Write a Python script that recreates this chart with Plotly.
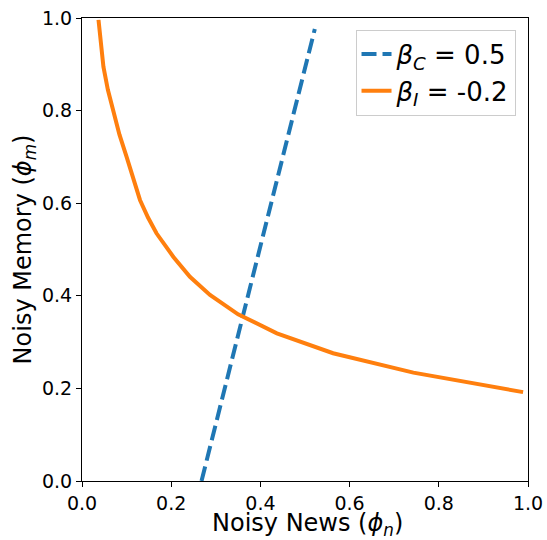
import plotly.graph_objects as go

# Blue dashed line (beta_C = 0.5)
c_x = [0.268, 0.522]
c_y = [0.0, 0.976]

# Orange curve (beta_I = -0.2)
i_x = [0.037, 0.042, 0.048, 0.058, 0.070, 0.084, 0.100, 0.115, 0.130, 0.148, 0.167, 0.205, 0.242, 0.287, 0.350, 0.437, 0.563, 0.743, 0.989]
i_y = [0.996, 0.945, 0.895, 0.845, 0.801, 0.748, 0.700, 0.652, 0.607, 0.569, 0.535, 0.484, 0.441, 0.402, 0.360, 0.319, 0.276, 0.234, 0.192]

tick_vals = [0.0, 0.2, 0.4, 0.6, 0.8, 1.0]
tick_text = ["0.0", "0.2", "0.4", "0.6", "0.8", "1.0"]

x_title = "Noisy News (<i>ϕ</i><sub><i>n</i></sub>)"
y_title = "Noisy Memory (<i>ϕ</i><sub><i>m</i></sub>)"

FONT = "DejaVu Sans"

fig = go.Figure()
fig.add_trace(go.Scatter(
    x=c_x, y=c_y, mode="lines",
    line=dict(color="#1f77b4", width=4, dash="15px,6px"),
    name="<i>β</i><sub><i>C</i></sub> = 0.5",
))
fig.add_trace(go.Scatter(
    x=i_x, y=i_y, mode="lines",
    line=dict(color="#ff7f0e", width=4),
    name="<i>β</i><sub><i>I</i></sub> = -0.2",
))

axis_common = dict(
    range=[0, 1],
    tickvals=tick_vals,
    ticktext=tick_text,
    showgrid=False,
    zeroline=False,
    showline=True,
    linecolor="black",
    linewidth=1,
    mirror=True,
    ticks="outside",
    ticklen=5,
    tickcolor="black",
    automargin=False,
    tickfont=dict(family=FONT, size=19, color="black"),
)

fig.update_layout(
    width=547, height=540,
    margin=dict(l=82, r=19, t=18, b=59),
    paper_bgcolor="white",
    plot_bgcolor="white",
    font=dict(family=FONT, color="black"),
    xaxis=dict(**axis_common),
    yaxis=dict(**axis_common),
    legend=dict(
        x=0.972, y=0.975, xanchor="right", yanchor="top",
        bgcolor="rgba(255,255,255,0.85)",
        bordercolor="#cccccc", borderwidth=1,
        font=dict(family=FONT, size=26, color="black"),
    ),
    showlegend=True,
    annotations=[
        dict(text=x_title, xref="paper", yref="paper", x=0.505, y=-0.095,
             xanchor="center", yanchor="middle", showarrow=False,
             font=dict(family=FONT, size=24, color="black")),
        dict(text=y_title, xref="paper", yref="paper", x=-0.128, y=0.5,
             xanchor="center", yanchor="middle", showarrow=False, textangle=-90,
             font=dict(family=FONT, size=24, color="black")),
    ],
)

fig.write_html("out.html")
